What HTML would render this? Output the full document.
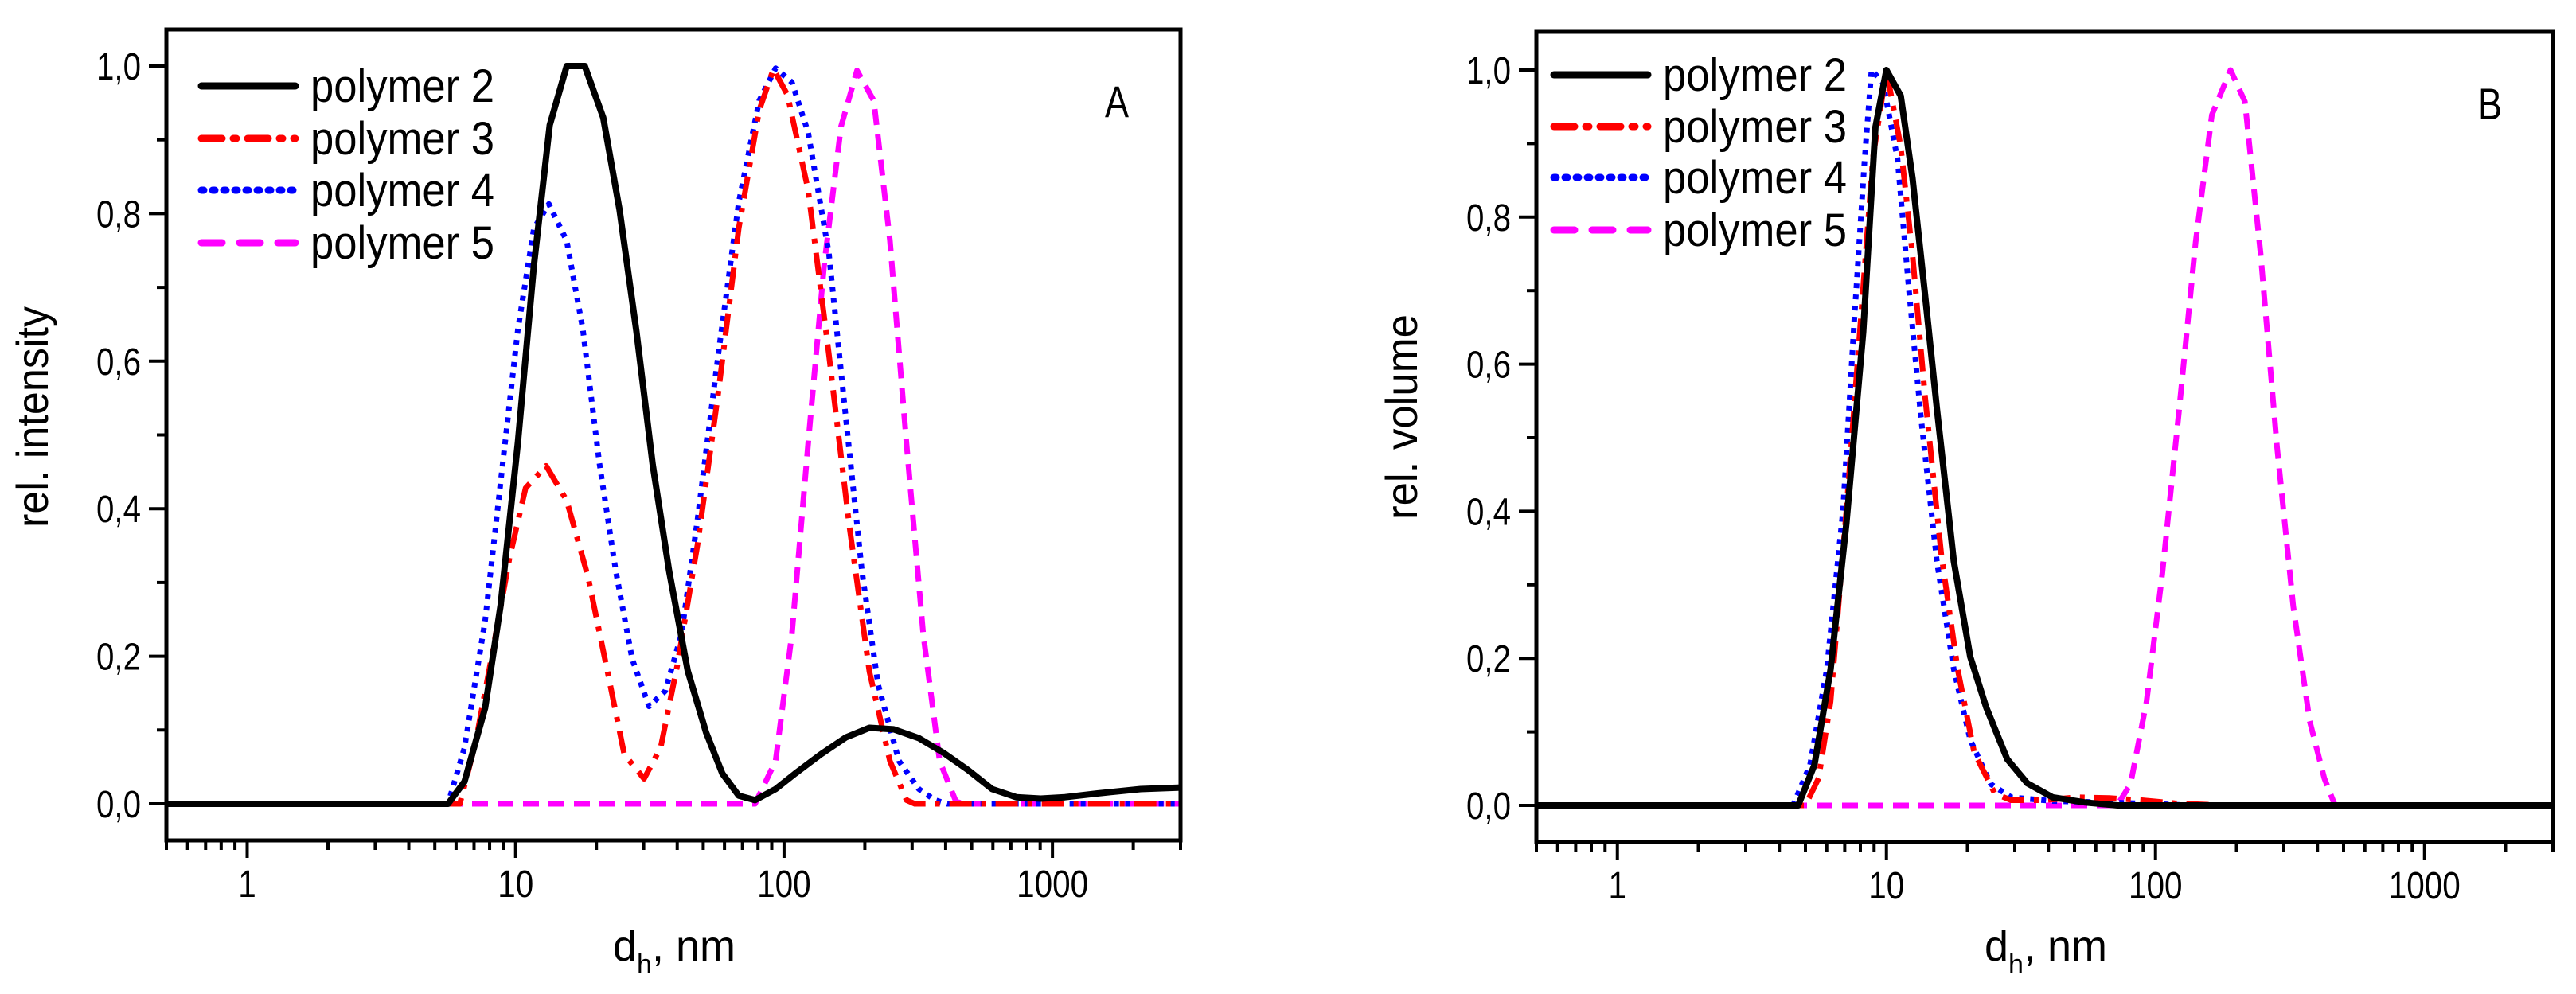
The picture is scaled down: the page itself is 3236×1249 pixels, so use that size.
<!DOCTYPE html>
<html><head><meta charset="utf-8"><style>
html,body{margin:0;padding:0;background:#fff;}
svg{display:block;font-family:"Liberation Sans",Arial,sans-serif;}
</style></head><body>
<svg id="fig" width="3236" height="1249" viewBox="0 0 3236 1249" xmlns="http://www.w3.org/2000/svg"></svg>
<script>
// ---------- Panel A data (rel. intensity) ----------
const aP2x=[0.5,5.6,6.45,7.7,8.8,10.2,11.7,13.4,15.5,18.1,21.2,24.4,28.2,32.4,37.3,43.8,51.2,58.9,67.8,78,93,110,137,170,208,256,318,393,484,596,733,904,1113,1472,2130,3000];
const aP2y=[0,0,0.03,0.13,0.27,0.49,0.73,0.92,1.0,1.0,0.93,0.805,0.64,0.46,0.316,0.18,0.097,0.041,0.011,0.005,0.02,0.041,0.067,0.09,0.103,0.101,0.089,0.069,0.046,0.02,0.009,0.007,0.009,0.014,0.02,0.022];
const aP3x=[0.5,6.2,7.1,8.2,9.5,10.9,13.0,15.5,18.6,22.0,25.4,30.1,34.7,40.0,47.6,56.9,67.8,80.8,91.3,103,123,147,175,208,248,286,307,3000];
const aP3y=[0,0,0.084,0.205,0.334,0.428,0.458,0.411,0.308,0.179,0.067,0.034,0.076,0.187,0.351,0.557,0.78,0.94,0.996,0.961,0.832,0.609,0.377,0.179,0.058,0.005,0,0];
const aP4x=[0.5,5.6,6.45,7.7,8.8,10.2,11.7,13.3,15.5,17.8,20.5,23.6,27.2,31.4,36.1,41.5,47.6,56.9,67.8,80.8,93,107,123,147,169,195,224,268,318,365,406,3000];
const aP4y=[0,0,0.076,0.248,0.437,0.643,0.78,0.813,0.763,0.643,0.463,0.316,0.196,0.132,0.153,0.23,0.385,0.609,0.815,0.953,0.997,0.978,0.91,0.746,0.531,0.316,0.162,0.058,0.02,0.005,0,0];
const aP5x=[0.5,78,93,107,123,141,163,187,216,248,286,330,380,437,469,3000];
const aP5y=[0,0,0.058,0.23,0.488,0.729,0.918,0.994,0.953,0.764,0.488,0.23,0.058,0.003,0,0];
// ---------- Panel B data (rel. volume) ----------
const bP2x=[0.5,4.7,5.4,6.2,7.1,8.2,9.1,10,11.3,12.5,13.9,15.4,17.8,20.5,23.5,28.1,33.4,41.4,54.8,72.3,3000];
const bP2y=[0,0,0.055,0.185,0.384,0.644,0.922,1.0,0.965,0.853,0.696,0.54,0.332,0.202,0.133,0.063,0.03,0.011,0.004,0,0];
const bP3x=[0.5,5.0,5.6,6.2,7.1,8.2,8.9,10,11.3,12.5,13.9,16,18.4,21.2,25.3,29.1,38.5,50.9,67.3,89,118,180,3000];
const bP3y=[0,0,0.037,0.141,0.402,0.705,0.879,1.0,0.896,0.749,0.558,0.341,0.185,0.072,0.016,0.007,0.007,0.011,0.01,0.007,0.003,0,0];
const bP4x=[0.5,4.5,5.2,6.0,6.9,7.6,8.3,8.8,9.7,11.0,12.1,13.4,15.4,17.8,20.5,24.4,29.1,41.4,67.3,103,136,3000];
const bP4y=[0,0,0.055,0.185,0.402,0.662,0.879,1.0,0.983,0.879,0.705,0.532,0.332,0.185,0.089,0.029,0.011,0.006,0.004,0.002,0,0];
const bP5x=[0.5,72,80.8,92.6,106,122,141,162,190,215,246,283,325,374,424,465,3000];
const bP5y=[0,0,0.029,0.141,0.315,0.532,0.766,0.939,1.0,0.957,0.749,0.488,0.271,0.115,0.037,0,0];
// ---------- Axes ----------
const yTicks=[0,0.2,0.4,0.6,0.8,1.0];
const yTickLabels=["0,0","0,2","0,4","0,6","0,8","1,0"];
const xTicks=[1,10,100,1000];
const xTickLabels=["1","10","100","1000"];
const seriesNames=["polymer 2","polymer 3","polymer 4","polymer 5"];

const NS="http://www.w3.org/2000/svg";
const svg=document.getElementById('fig');
function mk(tag,attrs,parent){const e=document.createElementNS(NS,tag);for(const k in attrs)e.setAttribute(k,attrs[k]);(parent||svg).appendChild(e);return e;}

const styles=[
 {stroke:"#000",w:8,dash:""},
 {stroke:"#ff0000",w:7,dash:"28 12 6 12"},
 {stroke:"#0000ff",w:7,dash:"6 8"},
 {stroke:"#ff00ff",w:7,dash:"20 12"}
];

function panel(cfg){
  const g=mk('g',{});
  
  
  const xmin=Math.log10(0.5), xmax=Math.log10(3000);
  const X=v=>cfg.L+(Math.log10(v)-xmin)/(xmax-xmin)*(cfg.R-cfg.L);
  const Y=v=>cfg.y0+(cfg.y1-cfg.y0)*v;
  yTicks.forEach((t,i)=>{
    const l=mk('line',{x1:cfg.L-22,x2:cfg.L,y1:Y(t),y2:Y(t),stroke:"#000","stroke-width":4},g);
    
    
    const tx=mk('text',{x:cfg.L-32,y:Y(t)+17,"text-anchor":"end","font-size":48,textLength:56,lengthAdjust:"spacingAndGlyphs"},g);
    tx.textContent=yTickLabels[i];
    
    
    if(i<yTicks.length-1){
      const m=(t+yTicks[i+1])/2;
      const ml=mk('line',{x1:cfg.L-12,x2:cfg.L,y1:Y(m),y2:Y(m),stroke:"#000","stroke-width":4},g);
      
      
    }
  });
  for(let d=0.1;d<=1000;d*=10){
    for(let k=1;k<=9;k++){
      const v=d*k; if(v<0.5||v>3000.1)continue;
      const major=(k===1);
      const l=mk('line',{x1:X(v),x2:X(v),y1:cfg.B,y2:cfg.B+(major?22:12),stroke:"#000","stroke-width":4},g);
      
      
    }
  }
  xTicks.forEach((t,i)=>{
    const tx=mk('text',{x:X(t),y:cfg.B+71,"text-anchor":"middle","font-size":48,textLength:xTickLabels[i].length*22.5,lengthAdjust:"spacingAndGlyphs"},g);
    tx.textContent=xTickLabels[i];
    
    
  });
  const clipId='clip-'+cfg.name;
  const cp=mk('clipPath',{id:clipId},g);
  mk('rect',{x:cfg.L,y:cfg.T,width:cfg.R-cfg.L,height:cfg.B-cfg.T},cp);
  [3,2,1,0].forEach(si=>{
    const xs=cfg.data[si][0], ys=cfg.data[si][1];
    let d='';
    xs.forEach((v,j)=>{d+=(j?'L':'M')+X(v).toFixed(1)+','+Y(ys[j]).toFixed(1);});
    const s=styles[si];
    const p=mk('path',{d:d,fill:"none",stroke:s.stroke,"stroke-width":s.w,"stroke-linejoin":"round","clip-path":"url(#"+clipId+")"},g);
    if(s.dash)p.setAttribute('stroke-dasharray',s.dash);
    
    
  });
  const fr=mk('rect',{x:cfg.L,y:cfg.T,width:cfg.R-cfg.L,height:cfg.B-cfg.T,fill:"none",stroke:"#000","stroke-width":5},g);
  
  
  seriesNames.forEach((n,i)=>{
    const y=cfg.legY[i];
    const s=styles[i];
    const l=mk('line',{x1:cfg.legX,x2:cfg.legX+118,y1:y,y2:y,stroke:s.stroke,"stroke-width":9,"stroke-linecap":"round"},g);
    if(s.dash)l.setAttribute('stroke-dasharray',i===1?"26 14 4 14":i===2?"3 11":"26 22");
    
    
    const t=mk('text',{x:cfg.legX+137,y:y+20,"font-size":58,textLength:231,lengthAdjust:"spacingAndGlyphs"},g);
    t.textContent=n;
    
    
  });
  const lt=mk('text',{x:cfg.letterX,y:cfg.T+110,"font-size":56,"text-anchor":"middle",textLength:30,lengthAdjust:"spacingAndGlyphs"},g);
  lt.textContent=cfg.letter;
  
  
  const yt=mk('text',{x:0,y:0,"font-size":56,"text-anchor":"middle",textLength:cfg.ytLen,lengthAdjust:"spacingAndGlyphs",transform:"translate("+cfg.ytX+",524) rotate(-90)"},g);
  yt.textContent=cfg.ytitle;
  
  
  const xt=mk('text',{x:cfg.xtX,y:1207,"font-size":54,"text-anchor":"middle"},g);
  
  
  const a=mk('tspan',{},xt);a.textContent='d';
  const b=mk('tspan',{"font-size":34,dy:16},xt);b.textContent='h';
  const c=mk('tspan',{dy:-16},xt);c.textContent=', nm';
}

panel({name:'panel-a',L:209,R:1483,T:37,B:1056,y0:1010,y1:83,
  data:[[aP2x,aP2y],[aP3x,aP3y],[aP4x,aP4y],[aP5x,aP5y]],
  legX:253,legY:[108,174,239,305],letter:'A',letterX:1403,
  ytitle:'rel. intensity',ytX:60,ytLen:278,xtX:847});
panel({name:'panel-b',L:1930,R:3207,T:40,B:1058,y0:1012,y1:88,
  data:[[bP2x,bP2y],[bP3x,bP3y],[bP4x,bP4y],[bP5x,bP5y]],
  legX:1952,legY:[94,159,223,289],letter:'B',letterX:3128,
  ytitle:'rel. volume',ytX:1780,ytLen:258,xtX:2570});
</script>
</body></html>
